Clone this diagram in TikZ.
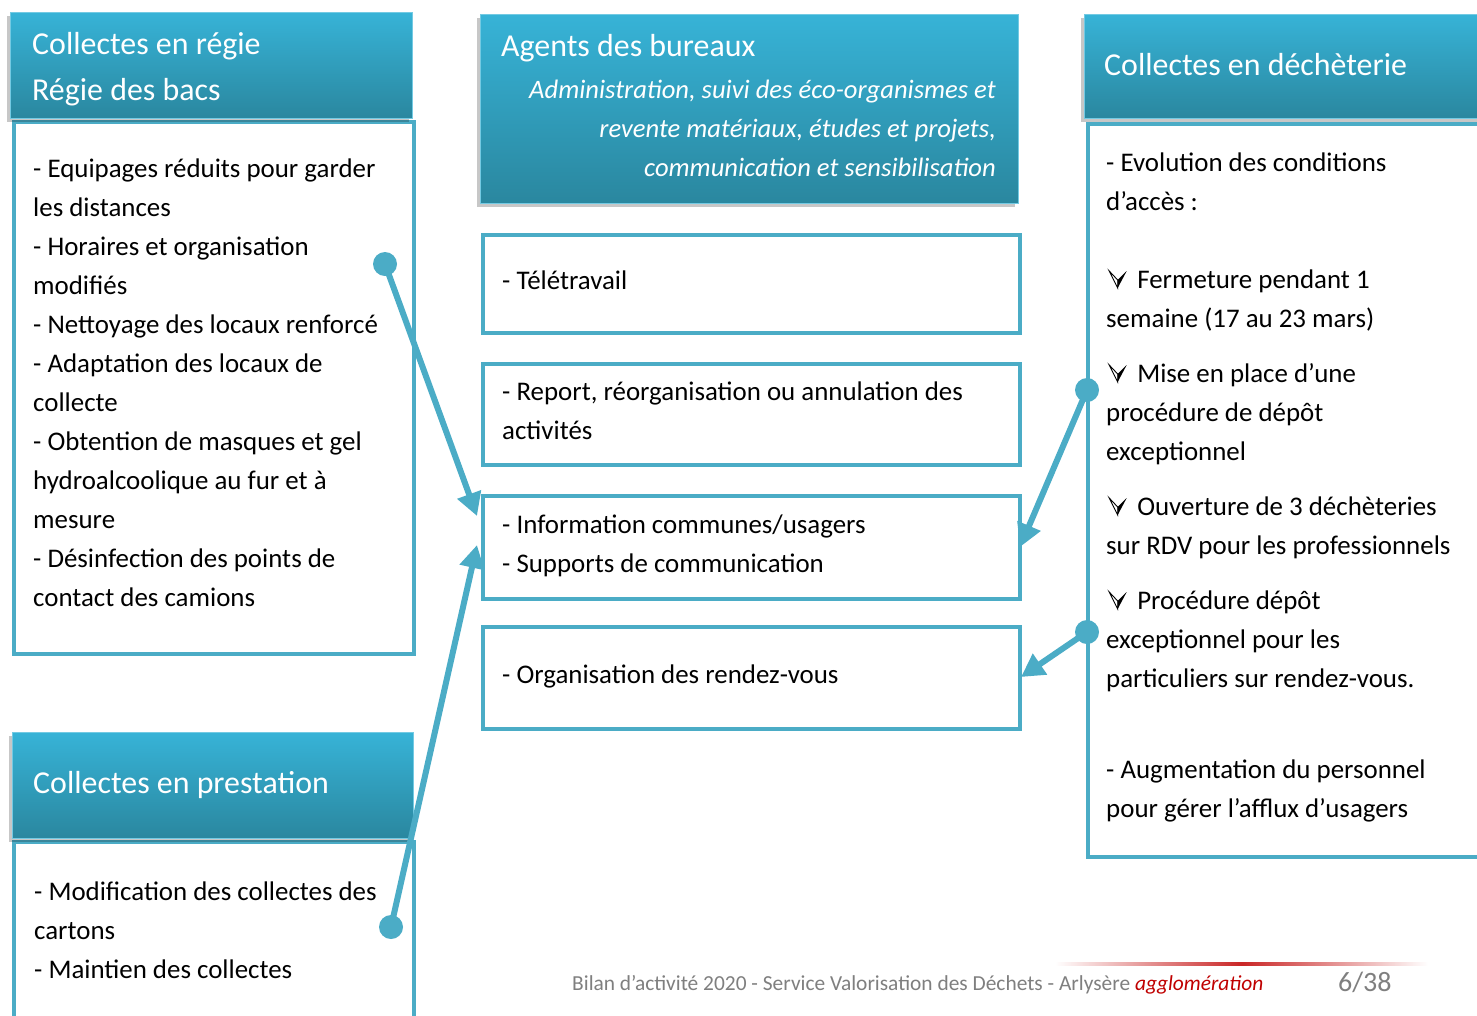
\documentclass[tikz,border=0pt]{standalone}
\usepackage{fontspec}
\setmainfont{Carlito}
\usetikzlibrary{arrows.meta,shadows}
\definecolor{accent}{HTML}{4BACC6}
\definecolor{hdtop}{HTML}{37B3D7}
\definecolor{hdbot}{HTML}{2A879F}
\definecolor{footgray}{HTML}{7F7F7F}
\definecolor{footred}{HTML}{C00000}
\newcommand{\arrbul}{\tikz[x=1pt,y=1pt,baseline=0pt]{\useasboundingbox (0,0) rectangle (25,17);\fill[black] (11.5,8) -- (20.5,17) -- (11.5,0) -- cycle; \draw[line width=0.9pt,line join=miter] (11.5,8) -- (3,17) -- (11.5,0) -- cycle;}}
\begin{document}
\begin{tikzpicture}[x=1pt,y=-1pt,
  hdr/.style={top color=hdtop,bottom color=hdbot,draw=hdtop!70!white,line width=0.8pt,
    anchor=north west,inner sep=0,
    drop shadow={shadow xshift=-3pt,shadow yshift=-4pt,opacity=0.22,fill=black}},
  bodybox/.style={draw=accent,line width=4pt,fill=white,anchor=north west,inner sep=0},
  txt/.style={inner sep=0,anchor=base west,font=\fontsize{26.9}{39}\selectfont},
  hdtxt/.style={inner sep=0,anchor=base west,text=white,font=\fontsize{31.9}{46}\selectfont},
  dot/.style={circle,fill=accent,minimum size=24pt,inner sep=0},
  conn/.style={draw=accent,line width=6pt,-{Triangle[length=23pt,width=24pt]}}
]
\useasboundingbox (0,0) rectangle (1477,1015);
\fill[white] (0,0) rectangle (1477,1015);

% ---------- left top ----------
\node[bodybox,minimum width=400pt,minimum height=532pt] (bL) at (12,120) {};
\node[hdr,minimum width=402pt,minimum height=106pt] (hL) at (10,12) {};
\node[hdtxt] (hLt) at (32,54) {\parbox[t]{370pt}{Collectes en régie\\Régie des bacs}};
\node[txt] (bLt) at (33,177) {\parbox[t]{420pt}{- Equipages réduits pour garder\\les distances\\- Horaires et organisation\\modifiés\\- Nettoyage des locaux renforcé\\- Adaptation des locaux de\\collecte\\- Obtention de masques et gel\\hydroalcoolique au fur et à\\mesure\\- Désinfection des points de\\contact des camions}};

% ---------- left bottom ----------
\node[bodybox,minimum width=400pt,minimum height=220pt] (bP) at (12,840) {};
\node[hdr,minimum width=401pt,minimum height=106pt] (hP) at (12,732) {};
\node[hdtxt] (hPt) at (33,793) {Collectes en prestation};
\node[txt] (bPt) at (34,900) {\parbox[t]{420pt}{- Modification des collectes des\\cartons\\- Maintien des collectes}};

% ---------- middle ----------
\node[hdr,minimum width=538pt,minimum height=189pt] (hM) at (480,14) {};
\node[hdtxt] (hMt) at (501,56) {Agents des bureaux};
\node[txt,anchor=base east,text=white,font=\fontsize{26.6}{39}\selectfont\itshape] (hMi) at (996,98) {\parbox[t]{520pt}{\raggedleft Administration, suivi des éco-organismes et\\revente matériaux, études et projets,\\communication et sensibilisation}};

\node[bodybox,minimum width=537pt,minimum height=98pt] (m1) at (481,233) {};
\node[txt] (m1t) at (502,289) {- Télétravail};
\node[bodybox,minimum width=537pt,minimum height=101pt] (m2) at (481,362) {};
\node[txt] (m2t) at (502,400) {\parbox[t]{500pt}{- Report, réorganisation ou annulation des\\activités}};
\node[bodybox,minimum width=537pt,minimum height=103pt] (m3) at (481,494) {};
\node[txt] (m3t) at (502,533) {\parbox[t]{500pt}{- Information communes/usagers\\- Supports de communication}};
\node[bodybox,minimum width=537pt,minimum height=102pt] (m4) at (481,625) {};
\node[txt] (m4t) at (502,683) {- Organisation des rendez-vous};

% ---------- right ----------
\node[bodybox,minimum width=420pt,minimum height=733pt] (bR) at (1086,122) {};
\node[hdr,minimum width=420pt,minimum height=104pt] (hR) at (1084,14) {};
\node[hdtxt] (hRt) at (1104,75) {Collectes en déchèterie};
\node[txt] (bRt) at (1106,171) {\parbox[t]{420pt}{- Evolution des conditions\\d’accès :\\[39pt]
\arrbul{} Fermeture pendant 1\\semaine (17 au 23 mars)\\[16pt]
\arrbul{} Mise en place d’une\\procédure de dépôt\\exceptionnel\\[16pt]
\arrbul{} Ouverture de 3 déchèteries\\sur RDV pour les professionnels\\[16pt]
\arrbul{} Procédure dépôt\\exceptionnel pour les\\particuliers sur rendez-vous.\\[52pt]
- Augmentation du personnel\\pour gérer l’afflux d’usagers}};

% ---------- connectors ----------
\node[dot] (d1) at (385,264) {};
\coordinate (t1) at (477,516);
\draw[conn] (d1.center) -- (t1);
\node[dot] (d2) at (391,927) {};
\coordinate (t2) at (477,545);
\draw[conn] (d2.center) -- (t2);
\node[dot] (d3) at (1087,390) {};
\coordinate (t3) at (1020,547);
\draw[conn] (d3.center) -- (t3);
\node[dot] (d4) at (1087,632) {};
\coordinate (t4) at (1021,677);
\draw[conn] (d4.center) -- (t4);

% ---------- footer ----------
\shade[left color=white,right color=white,middle color=footred!85!white] (1055,962.5) rectangle (1428,965.5);
\node[inner sep=0,anchor=base west,text=footgray,font=\fontsize{21.4}{24}\selectfont] (foot) at (572,990) {Bilan d’activité 2020 - Service Valorisation des Déchets - Arlysère \textcolor{footred}{\itshape agglomération}};
\node[inner sep=0,anchor=base west,text=footgray,font=\fontsize{28}{30}\selectfont] (page) at (1338,991) {6/38};
\end{tikzpicture}
\end{document}
